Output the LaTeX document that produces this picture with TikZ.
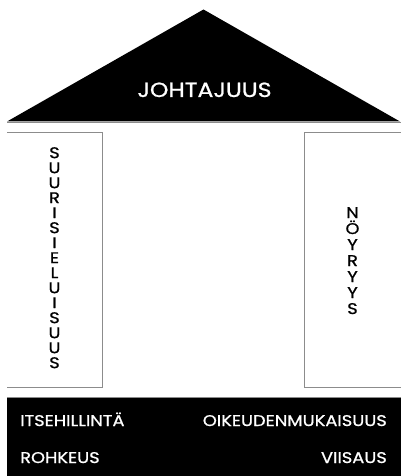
\documentclass[tikz,border=0pt]{standalone}
\usepackage{fontspec}
\setmainfont{Poppins}[FakeBold=0.9, FakeStretch=1.15]
\tikzset{
  shadowline/.style={draw=black!45, line width=1.3pt},
  bigtxt/.style={text=white, inner sep=0pt, font=\fontsize{20.5}{21}\selectfont},
  basetxt/.style={text=white, inner sep=0pt, font=\fontsize{15.5}{16}\selectfont},
  coltxt/.style={text=black, inner sep=0pt, align=center},
}
\begin{document}
\begin{tikzpicture}[x=1pt,y=-1pt]
\useasboundingbox (0,0) rectangle (400,476);
% roof
\fill[black] (7,121.5) -- (203.5,9.5) -- (400,121.5) -- cycle;
\draw[shadowline] (7,122.7) -- (401,122.7);
\node[bigtxt, anchor=base] (roof) at (204.5,97) {JOHTAJUUS};
% left pillar
\draw[shadowline] (7,132.2) -- (102.3,132.2) -- (102.3,387.5) -- (7,387.5);
\node[coltxt, anchor=north, font=\fontsize{15.5}{15}\selectfont] (left) at (54.5,147)
  {S\\U\\U\\R\\I\\S\\I\\E\\L\\U\\I\\S\\U\\U\\S};
% right pillar
\draw[shadowline] (401,132.2) -- (304.8,132.2) -- (304.8,387.5) -- (401,387.5);
\node[coltxt, anchor=north, font=\fontsize{15.5}{16}\selectfont] (right) at (352.5,207)
  {N\\Ö\\Y\\R\\Y\\Y\\S};
% base
\fill[black] (7,398) rectangle (401,477);
\draw[shadowline] (7,397.3) -- (401,397.3);
\node[basetxt, anchor=base west] (b1) at (20,426) {ITSEHILLINTÄ};
\node[basetxt, anchor=base east] (b2) at (387,426) {OIKEUDENMUKAISUUS};
\node[basetxt, anchor=base west] (b3) at (20,463) {ROHKEUS};
\node[basetxt, anchor=base east] (b4) at (387,463) {VIISAUS};
\end{tikzpicture}
\end{document}
